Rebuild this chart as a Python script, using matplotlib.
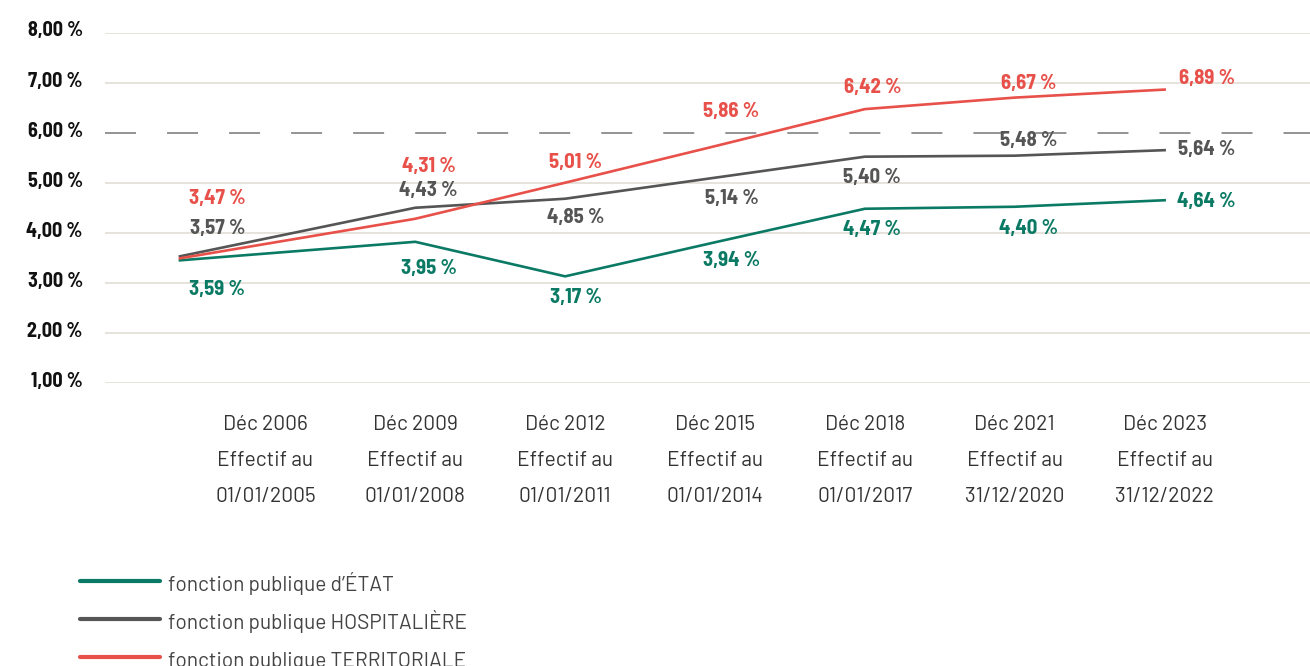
import numpy as np
import matplotlib
matplotlib.use("Agg")
import matplotlib.pyplot as plt
from matplotlib.transforms import ScaledTranslation

# categories (x axis)
periodes = ["Déc 2006\nEffectif au\n01/01/2005",
            "Déc 2009\nEffectif au\n01/01/2008",
            "Déc 2012\nEffectif au\n01/01/2011",
            "Déc 2015\nEffectif au\n01/01/2014",
            "Déc 2018\nEffectif au\n01/01/2017",
            "Déc 2021\nEffectif au\n31/12/2020",
            "Déc 2023\nEffectif au\n31/12/2022"]

# where each line point sits on the category axis (the first point is drawn left of its label)
x_points = [-0.57, 1, 2, 3, 4, 5, 6]

# line values as drawn (%)
etat = [3.45, 3.82, 3.13, 3.81, 4.48, 4.52, 4.65]
hospitaliere = [3.53, 4.50, 4.68, 5.10, 5.52, 5.54, 5.65]
territoriale = [3.49, 4.28, 5.00, 5.73, 6.47, 6.70, 6.86]

# printed labels
etat_lbl = ["3,59 %", "3,95 %", "3,17 %", "3,94 %", "4,47 %", "4,40 %", "4,64 %"]
hosp_lbl = ["3,57 %", "4,43 %", "4,85 %", "5,14 %", "5,40 %", "5,48 %", "5,64 %"]
terr_lbl = ["3,47 %", "4,31 %", "5,01 %", "5,86 %", "6,42 %", "6,67 %", "6,89 %"]

seuil = 6.0  # dashed reference line

# label placement (data coords)
lbl_x = [-0.32, 1.09, 2.07, 3.11, 4.05, 5.09, 6.28]
etat_ly = [2.87, 3.29, 2.71, 3.45, 4.07, 4.09, 4.63]
hosp_ly = [4.09, 4.85, 4.31, 4.69, 5.11, 5.85, 5.67]
terr_ly = [4.69, 5.33, 5.41, 6.43, 6.91, 6.99, 7.09]

VERT = "#0b7a64"
GRIS = "#555555"
ROUGE = "#e8504a"

BOLD = ['Barlow Semi Condensed', 'Saira SemiCondensed', 'Sofia Sans Semi Condensed', 'DejaVu Sans']
REG = ['Barlow', 'Roboto', 'DejaVu Sans']
plt.rcParams['font.family'] = REG

fig = plt.figure(figsize=(13.1, 6.66), dpi=100)
ax = fig.add_axes([105/1310, 1-383/666, 1-105/1310, (383-32.5)/666])

for v in range(1, 9):
    if v == seuil:
        continue
    ax.axhline(v, color="#e3e0d8", lw=1.3, zorder=0)
ax.axhline(seuil, color="#777777", lw=1.1, dashes=(20.3, 20.3), zorder=1)

ax.plot(x_points, etat, color=VERT, lw=1.9, label="fonction publique d’ÉTAT", zorder=3)
ax.plot(x_points, hospitaliere, color=GRIS, lw=1.9, label="fonction publique HOSPITALIÈRE", zorder=3)
ax.plot(x_points, territoriale, color=ROUGE, lw=1.9, label="fonction publique TERRITORIALE", zorder=3)

for lbls, ys, col in [(etat_lbl, etat_ly, VERT), (hosp_lbl, hosp_ly, GRIS), (terr_lbl, terr_ly, ROUGE)]:
    for x, y, s in zip(lbl_x, ys, lbls):
        ax.text(x, y, s, color=col, fontsize=15, fontweight="bold", family=BOLD,
                ha="center", va="center", zorder=4)

ax.set_xlim(-1.07, 6.97)
ax.set_ylim(1, 8)
ax.set_yticks(range(1, 9))
ax.set_yticklabels([f"{v},00 %" for v in range(1, 9)], fontsize=14.5, fontweight="bold",
                   family=BOLD, color="#111111")
ax.set_xticks(range(len(periodes)))
ax.set_xticklabels(periodes, fontsize=15, color="#333333", linespacing=2.12, va="top")
ax.tick_params(axis="both", length=0)
ax.tick_params(axis="y", pad=16)
ax.tick_params(axis="x", pad=23)
for s in ax.spines.values():
    s.set_visible(False)
# y labels sit a little above their gridline
for t in ax.get_yticklabels():
    t.set_transform(t.get_transform() + ScaledTranslation(0, 0.035, fig.dpi_scale_trans))

leg = fig.legend(loc="upper left", bbox_to_anchor=(80/1310, 1-571/666), frameon=False,
                 fontsize=15, handlelength=3.85, handleheight=1.5, handletextpad=0.35,
                 labelspacing=0.61, borderpad=0, borderaxespad=0, labelcolor="#444444")
for h in leg.get_lines():
    h.set_linewidth(3.0)
    h.set_solid_capstyle("round")

fig.savefig("out.png", dpi=100)
